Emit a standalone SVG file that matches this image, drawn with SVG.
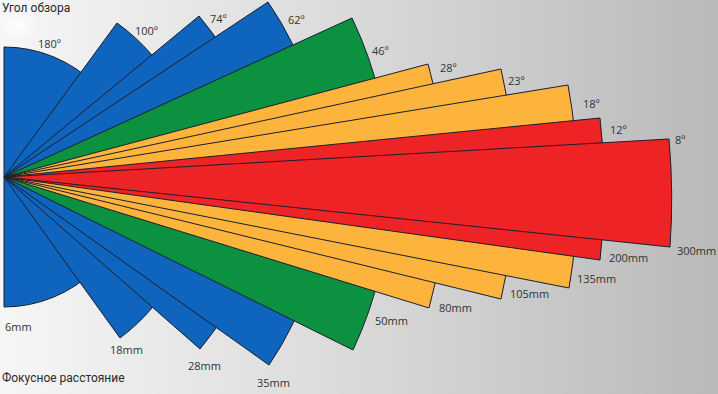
<svg xmlns="http://www.w3.org/2000/svg" width="718" height="394" viewBox="0 0 718 394">
<defs>
<linearGradient id="bg" x1="0" y1="0" x2="1" y2="0">
<stop offset="0" stop-color="#f6f6f6"/>
<stop offset="0.45" stop-color="#dcdcdc"/>
<stop offset="1" stop-color="#b9b9b9"/>
</linearGradient>
<radialGradient id="glow" cx="0.5" cy="0.5" r="0.5">
<stop offset="0" stop-color="#ffffff" stop-opacity="0.9"/>
<stop offset="1" stop-color="#ffffff" stop-opacity="0"/>
</radialGradient>
</defs>
<style>
.s{stroke:#1a1f2e;stroke-width:1;stroke-linejoin:miter}
.blue{fill:#0f64bd}
.green{fill:#0b9140}
.orange{fill:#fdb43c}
.red{fill:#ee2325}
.lbl{font-family:"Open Sans","Liberation Sans",sans-serif;font-size:11px;fill:#333}
.ttl{font-family:Roboto,"Liberation Sans",sans-serif;font-size:12px;fill:#2a2a2a}
</style>
<rect width="718" height="394" fill="url(#bg)"/>
<ellipse cx="18" cy="25" rx="22" ry="16" fill="url(#glow)"/>
<g id="sectors">
<path id="s180" class="s blue" d="M4,177 L4,47 A130,130 0 0,1 4,307 Z"/>
<path id="s100" class="s blue" d="M4,177 L117,23 A195,195 0 0,1 120,338 Z"/>
<path id="s74" class="s blue" d="M4,177 L199,16 A256,256 0 0,1 200,349 Z"/>
<path id="s62" class="s blue" d="M4,177 L268,2 A321,321 0 0,1 269,365 Z"/>
<path id="s46" class="s green" d="M4,177 L352,18 A386,386 0 0,1 353,350 Z"/>
<path id="s28" class="s orange" d="M4,177 L428,64 A441,441 0 0,1 429,308 Z"/>
<path id="s23" class="s orange" d="M4,177 L501,69 A510,510 0 0,1 501,299 Z"/>
<path id="s18" class="s orange" d="M4,177 L568,85 A574,574 0 0,1 569,288 Z"/>
<path id="s12" class="s red" d="M4,177 L600,118 A600,600 0 0,1 600,260 Z"/>
<path id="s8" class="s red" d="M4,177 L669,139 A668,668 0 0,1 670,247 Z"/>
</g>
<g id="angles">
<text class="lbl" x="38" y="48">180º</text>
<text class="lbl" x="135" y="35">100º</text>
<text class="lbl" x="210" y="23">74º</text>
<text class="lbl" x="288" y="24">62º</text>
<text class="lbl" x="372" y="55">46º</text>
<text class="lbl" x="440" y="72">28º</text>
<text class="lbl" x="508" y="85">23º</text>
<text class="lbl" x="583" y="108">18º</text>
<text class="lbl" x="610" y="134">12º</text>
<text class="lbl" x="675" y="144">8º</text>
</g>
<g id="focal">
<text class="lbl" x="5" y="331">6mm</text>
<text class="lbl" x="110" y="354">18mm</text>
<text class="lbl" x="188" y="370">28mm</text>
<text class="lbl" x="257" y="387">35mm</text>
<text class="lbl" x="375" y="325">50mm</text>
<text class="lbl" x="439" y="312">80mm</text>
<text class="lbl" x="510" y="298">105mm</text>
<text class="lbl" x="577" y="283">135mm</text>
<text class="lbl" x="609" y="262">200mm</text>
<text class="lbl" x="677" y="255">300mm</text>
</g>
<text class="ttl" x="2" y="12">Угол обзора</text>
<text class="ttl" x="2" y="382">Фокусное расстояние</text>
</svg>
